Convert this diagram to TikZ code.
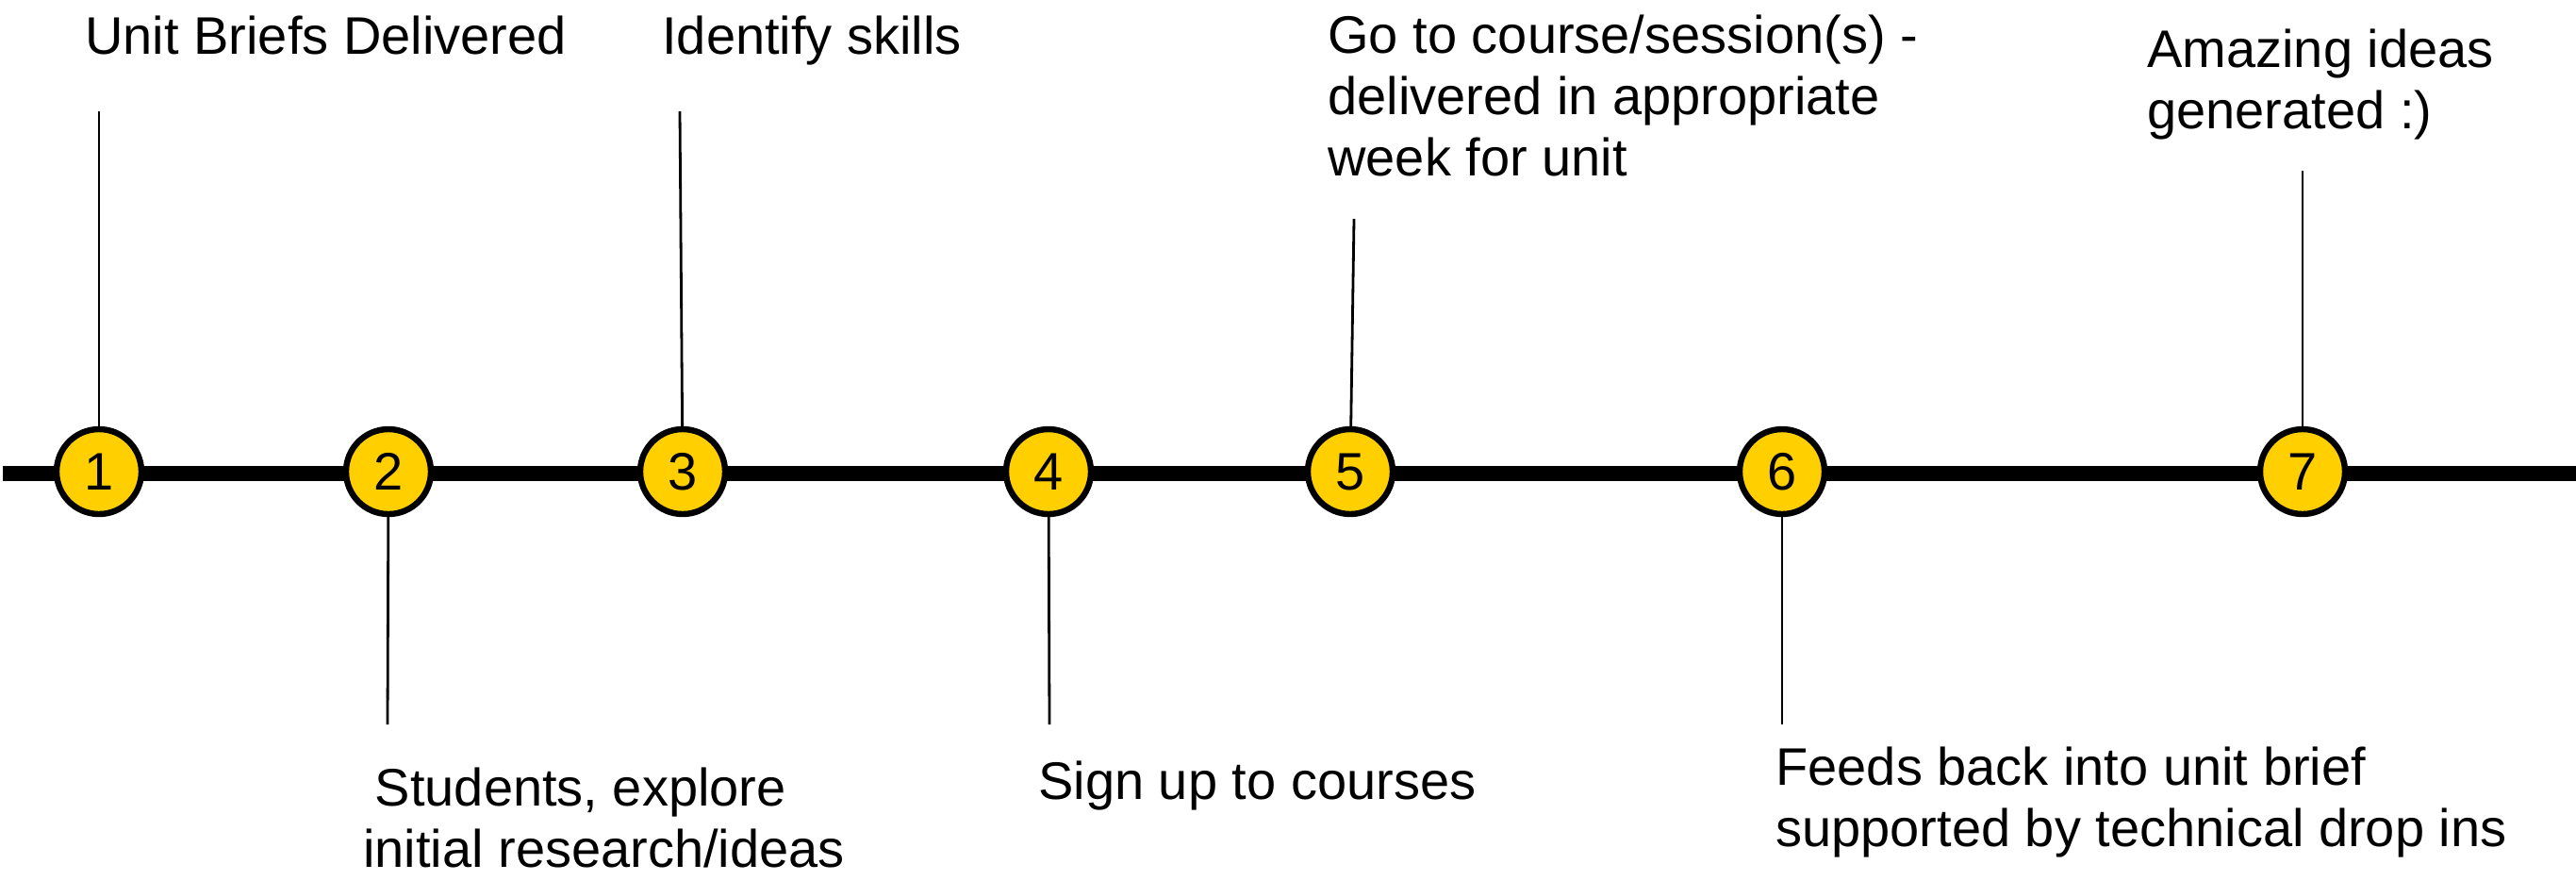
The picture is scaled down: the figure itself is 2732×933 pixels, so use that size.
\documentclass[tikz,border=0pt]{standalone}
\usepackage{fontspec}
\setmainfont{Liberation Sans}
\definecolor{stepyellow}{RGB}{255,207,0}
\begin{document}
\begin{tikzpicture}[x=0.5pt,y=-0.5pt,
  mainline/.style={line width=8pt,line cap=butt},
  stepdot/.style={circle,draw=black,line width=3.2pt,fill=stepyellow,minimum size=45pt,inner sep=0pt,font=\fontsize{28}{30}\selectfont},
  leader/.style={line width=1.4pt},
  lbl/.style={anchor=base west,align=left,inner sep=0pt,font=\fontsize{28}{32.5}\selectfont}]
\useasboundingbox (0,0) rectangle (2732,933);
\coordinate (L) at (3,502);
\coordinate (R) at (2732,502);
\draw[mainline] (L) -- (R);
\node[stepdot] (c1) at (105,500) {1};
\node[stepdot] (c2) at (412,500) {2};
\node[stepdot] (c3) at (724,500) {3};
\node[stepdot] (c4) at (1112,500) {4};
\node[stepdot] (c5) at (1432,500) {5};
\node[stepdot] (c6) at (1890,500) {6};
\node[stepdot] (c7) at (2442,500) {7};
\coordinate (t1) at (105,118);
\coordinate (t3) at (721,118);
\coordinate (t5) at (1436,232);
\coordinate (t7) at (2442,181);
\coordinate (b2) at (411,768);
\coordinate (b4) at (1113,768);
\coordinate (b6) at (1890,768);
\draw[leader] (c1) -- (t1);
\draw[leader] (c3) -- (t3);
\draw[leader] (c5) -- (t5);
\draw[leader] (c7) -- (t7);
\draw[leader] (c2) -- (b2);
\draw[leader] (c4) -- (b4);
\draw[leader] (c6) -- (b6);
\node[lbl] (l1) at (90,57) {Unit Briefs Delivered};
\node[lbl] (l3) at (702,57) {Identify skills};
\node[lbl] (l5) at (1408,186) {Go to course/session(s) -\\delivered in appropriate\\week for unit};
\node[lbl] (l7) at (2277,136) {Amazing ideas\\generated :)};
\node[lbl] (l2) at (385,919) {\hphantom{i}Students, explore\\initial research/ideas};
\node[lbl] (l4) at (1101,847) {Sign up to courses};
\node[lbl] (l6) at (1883,897) {Feeds back into unit brief\\supported by technical drop ins};
\end{tikzpicture}
\end{document}
